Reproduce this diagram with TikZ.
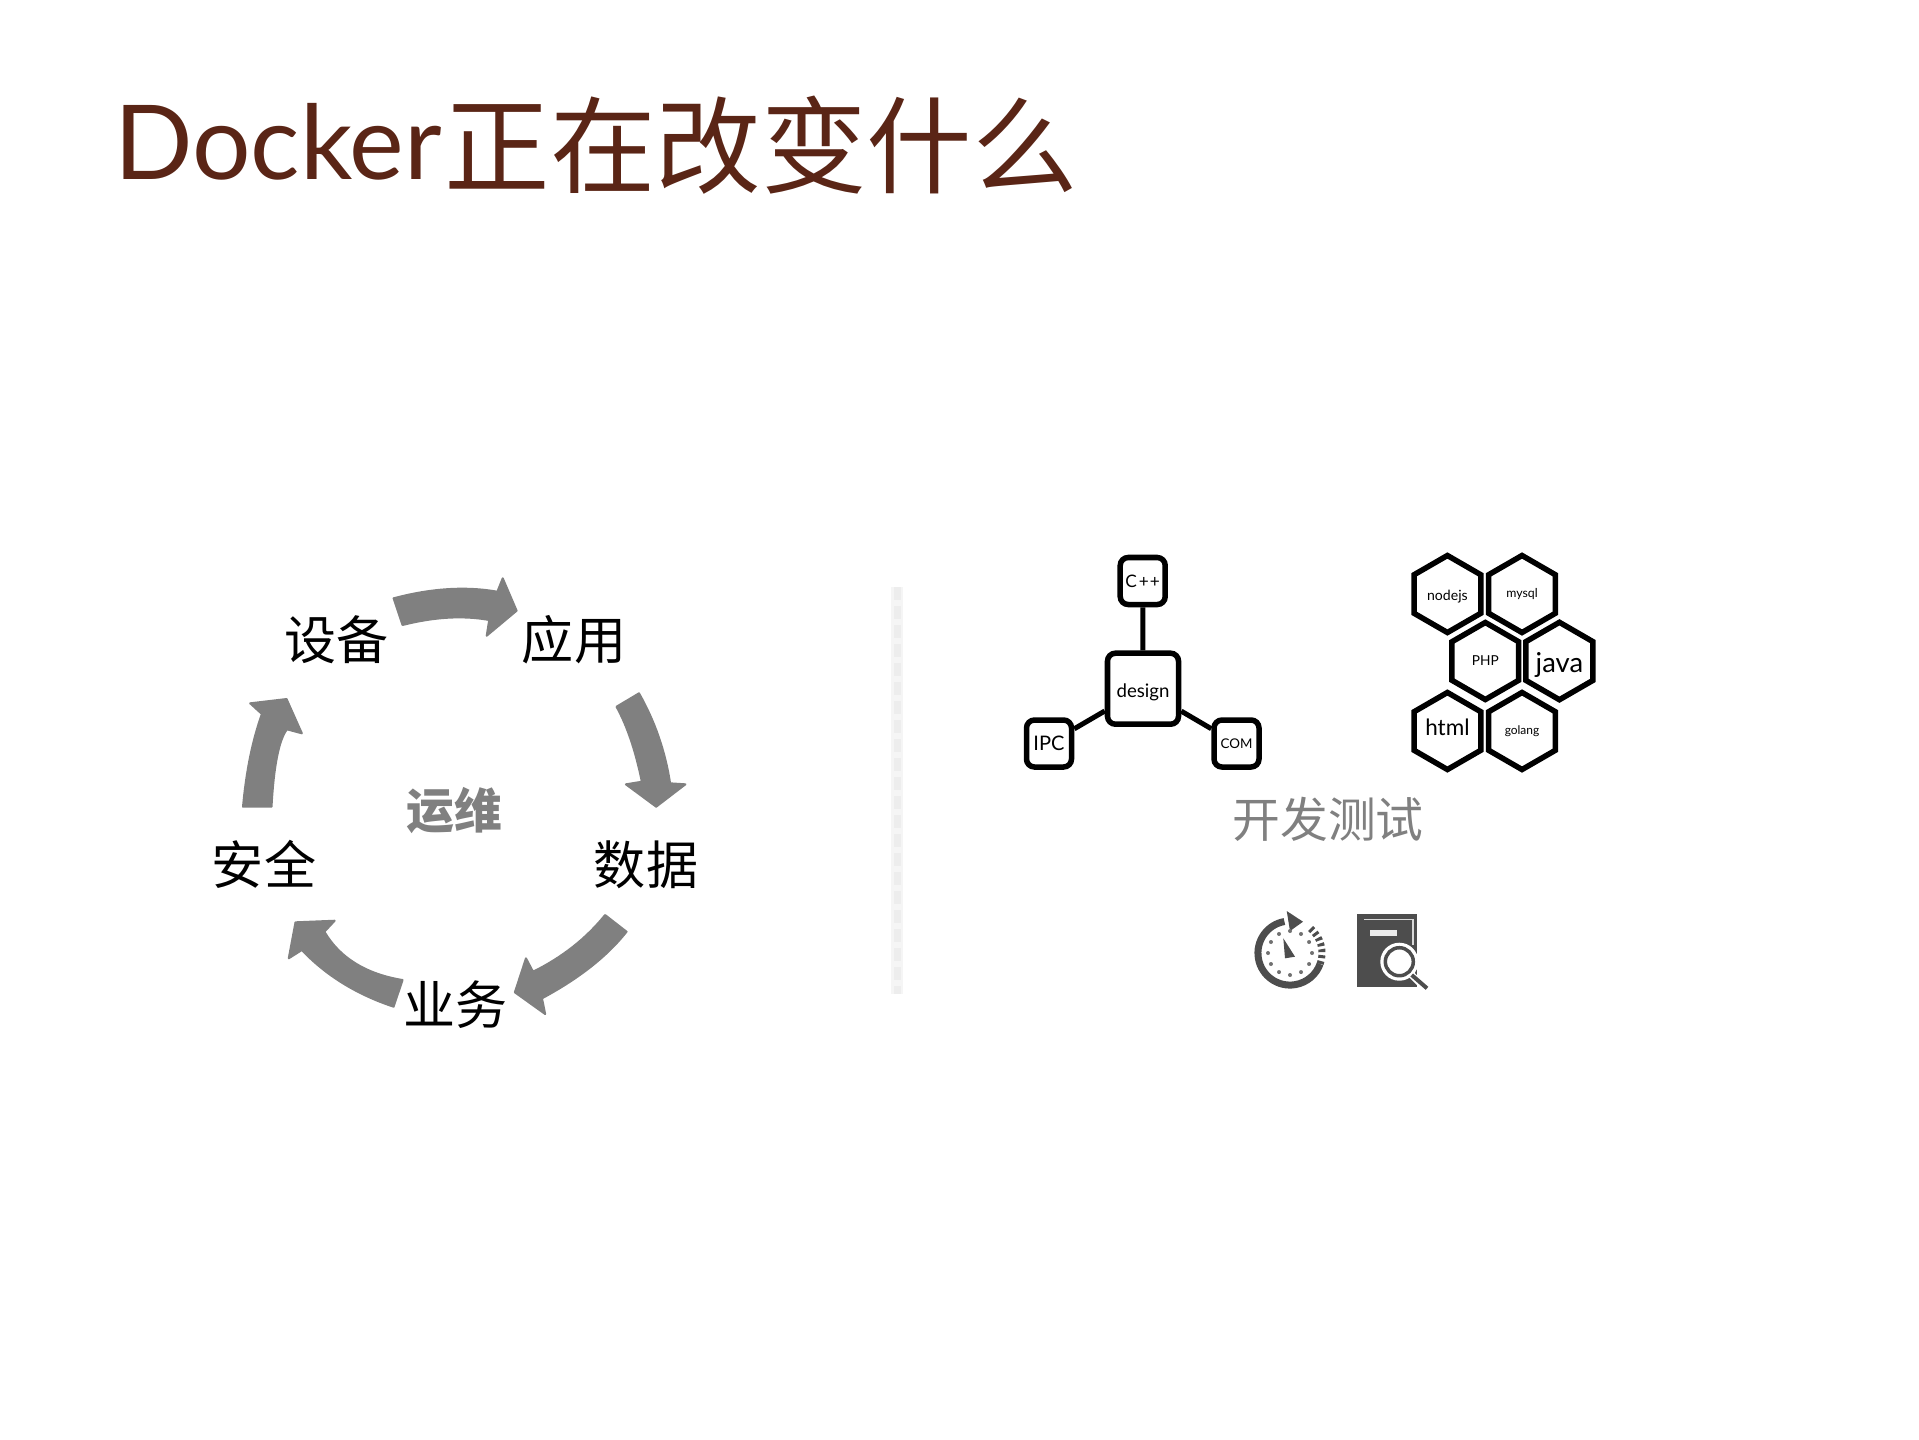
\documentclass[tikz,border=0pt]{standalone}
\usepackage{fontspec}
\usepackage{tikz}
\usetikzlibrary{shapes.geometric}
\setmainfont{Lato}
\newfontfamily\cjk{Noto Sans CJK SC}
\definecolor{titlebrown}{HTML}{5A2516}
\definecolor{ringgray}{HTML}{808080}
\definecolor{icongray}{HTML}{4D4D4D}
\tikzstyle{titletext} = [inner sep=0pt, anchor=west, text=titlebrown]
\tikzstyle{steplabel} = [inner sep=0pt, font=\cjk\fontsize{14.8}{16}\selectfont]
\tikzstyle{graylabel} = [inner sep=0pt, text=ringgray, font=\cjk\fontsize{13.6}{15}\selectfont]
\tikzstyle{ringarrow} = [fill=ringgray, draw=ringgray, line width=0.02cm, line join=round]
\tikzstyle{techbox} = [draw=black, line width=0.055cm, rectangle, rounded corners=0.08cm, inner sep=0pt, fill=white]
\tikzstyle{techhex} = [draw=black, line width=0.055cm, regular polygon, regular polygon sides=6, shape border rotate=90, minimum size=0.77cm, inner sep=0pt, fill=white]
\tikzstyle{techline} = [draw=black, line width=0.05cm]
\begin{document}
\begin{tikzpicture}[x=0.01cm,y=-0.01cm]
        \useasboundingbox (0,0) rectangle (1919,1439);
        % title
        \node [titletext] (title) at (113.3,145) {\raisebox{0.055cm}{\fontsize{29.4}{32}\selectfont Docker}\hspace{0.03cm}{\fontsize{30}{32}\selectfont\cjk 正在改变什么}};
        % ring of arrows
        \node [steplabel] (device) at (336.8,639.3) {设备};
        \node [steplabel] (app) at (574,639.3) {应用};
        \node [steplabel] (data) at (646,865) {数据};
        \node [steplabel] (business) at (455.8,1005) {业务};
        \node [steplabel] (safety) at (264,864) {安全};
        \node [graylabel, font=\cjk\bfseries\fontsize{13.6}{15}\selectfont] (ops) at (454.8,810.3) {运维};
        \begin{scope}[x=0.00993cm, xshift=0.017cm]
        \fill [ringarrow] (394.3,598.3) .. controls (432.7,588.1) and (467.5,586.2) .. (498.7,591.7) -- (504.1,578.3) -- (518.1,610.7) -- (488,635.7) -- (490.5,620) .. controls (464.5,615.3) and (435.4,616.9) .. (403.3,625) -- cycle;
        \fill [ringarrow] (641.2,693.3) .. controls (657.2,721.2) and (667.6,751.2) .. (672.5,783.3) -- (687.9,784.3) -- (658.5,806.7) -- (628,784.3) -- (644.1,781.7) .. controls (637.8,751.1) and (629.3,726.1) .. (618.6,706.7) -- cycle;
        \fill [ringarrow] (628.7,931.7) .. controls (609.2,956.2) and (580.9,978.4) .. (543.6,998.3) -- (546.8,1014) -- (516.3,992.3) -- (527.5,958.3) -- (534.6,971.7) .. controls (564.1,957.2) and (588.2,938.3) .. (607.1,915) -- cycle;
        \fill [ringarrow] (394.3,1006.7) .. controls (357.1,994.4) and (326.3,975.5) .. (302,950) -- (288.8,958.3) -- (295.6,922.3) -- (335,920.7) -- (324.7,931.7) .. controls (340.1,957.8) and (366.3,973.9) .. (403.3,980) -- cycle;
        \fill [ringarrow] (242.8,806.7) .. controls (246,771) and (252.4,740) .. (261.8,714) -- (250,703.3) -- (286.6,699) -- (302,733.3) -- (287,729.3) .. controls (278.8,740) and (273.7,766.3) .. (271.5,806.7) -- cycle;
        \end{scope}
        % divider
        \draw [line width=0.12cm, ringgray!8] (897,587) -- (897,994);
        \draw [line width=0.07cm, dash pattern=on 0.13cm off 0.06cm, ringgray!14] (897,587) -- (897,994);
        % design graph
        \node [techbox, minimum width=0.71cm, minimum height=0.71cm, text height=0.22cm, text depth=0.04cm] (design) at (1143,688.7) {\fontsize{5.3}{6}\selectfont design\hspace{0.05cm}};
        \node [techbox, minimum width=0.45cm, minimum height=0.47cm] (cpp) at (1142.7,581) {\fontsize{4.9}{6}\selectfont C\hspace{0.02cm}+\hspace{0.01cm}+\hspace{0.05cm}};
        \node [techbox, minimum width=0.45cm, minimum height=0.47cm] (ipc) at (1049,743.5) {\fontsize{5.7}{7}\selectfont IPC};
        \node [techbox, minimum width=0.45cm, minimum height=0.47cm] (com) at (1236.5,743.5) {\fontsize{3.8}{5}\selectfont COM};
        \draw [techline] (design) -- (cpp);
        \draw [techline] (design) -- (ipc);
        \draw [techline] (design) -- (com);
        % hexagons
        \node [techhex, text height=0.15cm, text depth=0.03cm] (nodejs) at (1447.4,594) {\fontsize{4}{5}\selectfont nodejs};
        \node [techhex] (mysql) at (1522,594) {\fontsize{3.5}{5}\selectfont mysql};
        \node [techhex] (php) at (1485.3,661) {\fontsize{3.9}{5}\selectfont PHP};
        \node [techhex, text height=0.24cm, text depth=0.02cm] (java) at (1559.4,661) {\fontsize{7.8}{9}\selectfont java};
        \node [techhex, text height=0.165cm, text depth=0.075cm] (html) at (1447.4,731) {\fontsize{6.4}{8}\selectfont html};
        \node [techhex] (golang) at (1522,731) {\fontsize{3.4}{5}\selectfont golang};
        \node [graylabel] (devtest) at (1328,819) {开发测试};
        % stopwatch
        \draw [icongray, line width=0.07cm] (1284.4,921.5) arc (100:340:0.32cm);
        \draw [icongray, line width=0.07cm, dash pattern=on 0.03cm off 0.03cm] (1310.6,928.5) arc (50:-20:0.32cm);
        \fill [icongray] (1286.7,911) -- (1303,921.7) -- (1290,931) -- cycle;
        \fill [icongray] (1283.3,938.3) -- (1295,956.7) -- (1285,958.3) -- cycle;
        \foreach \a in {0,30,...,330}
            \fill [icongray!80] ({1290+22*cos(\a)},{953+22*sin(\a)}) circle (0.02cm);
        % book
        \fill [icongray] (1357,914) rectangle (1417,987);
        \draw [white!85!black, line width=0.015cm] (1364,919.5) -- (1413,919.5) -- (1413,945);
        \fill [white!92!black] (1370,930) rectangle (1397,936);
        \fill [white] (1399.3,961.7) circle (0.19cm);
        \draw [icongray, line width=0.035cm] (1399.3,961.7) circle (0.14cm);
        \draw [white, line width=0.07cm] (1411.7,975) -- (1426.7,990);
        \draw [icongray, line width=0.04cm] (1411.7,975) -- (1427,988.3);
    \end{tikzpicture}
\end{document}
